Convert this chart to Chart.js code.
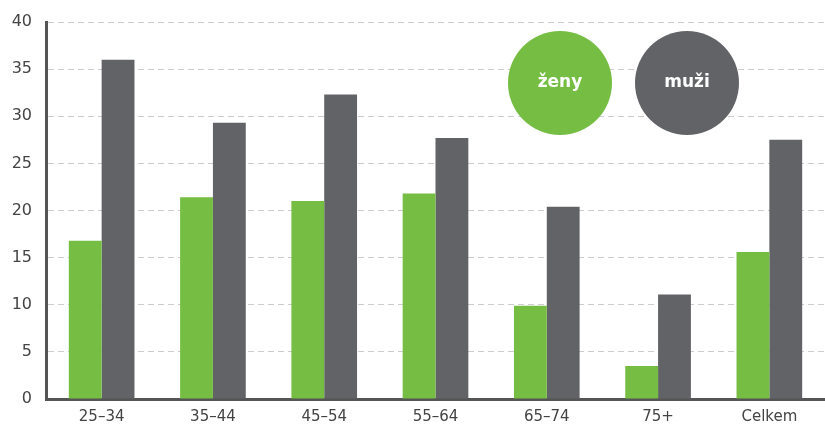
<!DOCTYPE html>
<html>
<head>
<meta charset="utf-8">
<script src="https://cdn.jsdelivr.net/npm/chart.js@4"></script>
<style>
  html, body { margin: 0; padding: 0; background: #fff; }
  #wrap { width: 825px; height: 428px; }
</style>
</head>
<body>
<div id="wrap"><canvas id="graf"></canvas></div>
<script>
// data
var kategorie = ["25–34", "35–44", "45–54", "55–64", "65–74", "75+", "Celkem"];
var zeny = [16.8, 21.4, 21.0, 21.8, 9.9, 3.5, 15.6];
var muzi = [36.0, 29.3, 32.3, 27.7, 20.4, 11.1, 27.5];
var osaY = [0, 5, 10, 15, 20, 25, 30, 35, 40];

var zelena = "#76BE43";
var seda = "#626366";

// legenda jako dva kruhy
var kruhy = {
  id: "kruhy",
  afterDraw: function (chart) {
    var ctx = chart.ctx;
    var pozice = [[560, 83], [687, 83]];
    chart.data.datasets.forEach(function (ds, i) {
      ctx.save();
      ctx.beginPath();
      ctx.arc(pozice[i][0], pozice[i][1], 52, 0, Math.PI * 2);
      ctx.fillStyle = ds.backgroundColor;
      ctx.fill();
      ctx.fillStyle = "#fff";
      ctx.font = "bold 17px 'DejaVu Sans'";
      ctx.textAlign = "center";
      ctx.textBaseline = "middle";
      ctx.fillText(ds.label, pozice[i][0], pozice[i][1]);
      ctx.restore();
    });
  }
};

window.addEventListener("DOMContentLoaded", function () {
  var ctx = document.getElementById("graf").getContext("2d");
  new Chart(ctx, {
    type: "bar",
    data: {
      labels: kategorie,
      datasets: [
        { label: "ženy", data: zeny, backgroundColor: zelena },
        { label: "muži", data: muzi, backgroundColor: seda }
      ]
    },
    options: {
      responsive: true,
      maintainAspectRatio: false,
      animation: false,
      layout: { padding: { top: 20, right: 0, left: 0, bottom: 0 } },
      datasets: { bar: { barPercentage: 1, categoryPercentage: 0.59 } },
      plugins: { legend: { display: false }, tooltip: { enabled: false } },
      scales: {
        x: {
          afterFit: function (axis) { axis.height = 29; },
          grid: { display: false, drawTicks: false },
          border: { display: true, color: "#555", width: 3 },
          ticks: { color: "#444", font: { family: "DejaVu Sans", size: 15 }, padding: 9 }
        },
        y: {
          min: 0,
          max: 40,
          afterFit: function (axis) { axis.width = 46; },
          afterBuildTicks: function (axis) {
            axis.ticks = osaY.map(function (v) { return { value: v }; });
          },
          grid: { color: "#cccccc", lineWidth: 1, tickLength: 0 },
          border: { display: true, color: "#555", width: 3, dash: [6, 4] },
          ticks: { color: "#444", font: { family: "DejaVu Sans", size: 16, lineHeight: 1 }, padding: 14 }
        }
      }
    },
    plugins: [kruhy]
  });
});
</script>
</body>
</html>
